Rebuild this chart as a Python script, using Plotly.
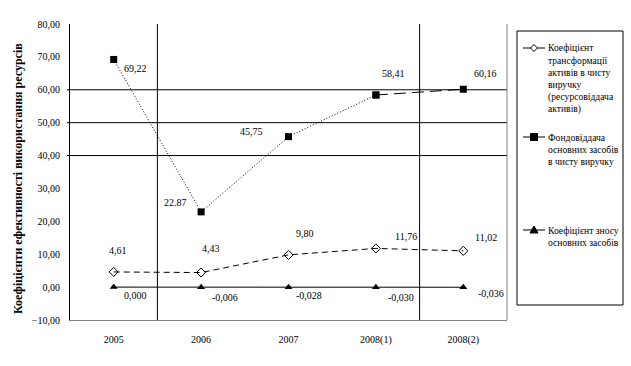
import plotly.graph_objects as go

categories = ["2005", "2006", "2007", "2008(1)", "2008(2)"]

asset_turnover = [4.61, 4.43, 9.80, 11.76, 11.02]
asset_labels = ["4,61", "4,43", "9,80", "11,76", "11,02"]

fixed_asset_return = [69.22, 22.87, 45.75, 58.41, 60.16]
fixed_asset_labels = ["69,22", "22.87", "45,75", "58,41", "60,16"]

wear_coef = [0.000, -0.006, -0.028, -0.030, -0.036]
wear_labels = ["0,000", "-0,006", "-0,028", "-0,030", "-0,036"]

name_turnover = ["Коефіцієнт", "трансформації", "активів в чисту", "виручку",
                 "(ресурсовіддача", "активів)"]
name_fixed = ["Фондовіддача", "основних засобів", "в чисту виручку"]
name_wear = ["Коефіцієнт зносу", "основних засобів"]

y_title = "Коефіцієнти ефективності використання ресурсів"

FONT = "Liberation Serif, Times New Roman, serif"

W, H = 631, 366
L, R, T, B = 70, 124, 24, 46
PW, PH = W - L - R, H - T - B


def px_x(px):
    return (px - L) / PW


def px_y(py):
    return (H - B - py) / PH


fig = go.Figure()

fig.add_trace(go.Scatter(
    x=categories, y=asset_turnover, name="<br>".join(name_turnover), mode="lines+markers",
    line=dict(color="black", width=1, dash="6px,4px"),
    marker=dict(symbol="diamond-open", size=7, color="black", line=dict(width=1, color="black")),
    showlegend=False,
))
fig.add_trace(go.Scatter(
    x=categories[:4], y=fixed_asset_return[:4], name="<br>".join(name_fixed), mode="lines+markers",
    line=dict(color="black", width=1, dash="1px,2px"),
    marker=dict(symbol="square", size=7, color="black"),
    showlegend=False,
))
fig.add_trace(go.Scatter(
    x=categories[3:], y=fixed_asset_return[3:], name="<br>".join(name_fixed), mode="lines+markers",
    line=dict(color="black", width=1, dash="12px,6px"),
    marker=dict(symbol="square", size=7, color="black"),
    showlegend=False,
))
fig.add_trace(go.Scatter(
    x=categories, y=wear_coef, name="<br>".join(name_wear), mode="lines+markers",
    line=dict(color="black", width=1),
    marker=dict(symbol="triangle-up", size=7, color="black"),
    showlegend=False,
))

# data labels (offsets in pixels)
turn_off = [(4, 21), (10, 24), (16, 21), (30, 12), (23, 13)]
fixed_off = [(22, -9), (-26, 9), (-37, 5), (18, 22), (22, 16)]
wear_off = [(22, -8), (24, -10), (20, -8), (25, -10), (28, -6)]

for vals, labs, offs in [(asset_turnover, asset_labels, turn_off),
                         (fixed_asset_return, fixed_asset_labels, fixed_off),
                         (wear_coef, wear_labels, wear_off)]:
    for i, (v, t, (dx, dy)) in enumerate(zip(vals, labs, offs)):
        fig.add_annotation(x=i, y=v, text=t, showarrow=False, xshift=dx, yshift=dy,
                           font=dict(family=FONT, size=10, color="black"))

# horizontal gridlines
for gy in [40, 50, 60]:
    fig.add_shape(type="line", xref="paper", yref="y", x0=px_x(67), x1=1, y0=gy, y1=gy,
                  line=dict(color="black", width=1))
# vertical lines between categories
for gx in [0.5, 3.5]:
    fig.add_shape(type="line", xref="x", yref="paper", x0=gx, x1=gx, y0=0, y1=1,
                  line=dict(color="black", width=1))
# right border
fig.add_shape(type="line", xref="paper", yref="paper", x0=1, x1=1, y0=0, y1=1,
              line=dict(color="#808080", width=1))

# y-axis title
fig.add_annotation(xref="paper", yref="paper", x=px_x(18), y=px_y(179), text="<b>" + y_title + "</b>",
                   textangle=-90, showarrow=False, xanchor="center", yanchor="middle",
                   font=dict(family=FONT, size=12, color="black"))

# ---- legend (drawn manually) ----
fig.add_shape(type="rect", xref="paper", yref="paper", x0=px_x(517), x1=px_x(623),
              y0=px_y(305), y1=px_y(31), line=dict(color="black", width=1),
              fillcolor="rgba(0,0,0,0)")
legend_items = [
    (name_turnover, 48, "M-3.5,0L0,-3.5L3.5,0L0,3.5Z", "white"),
    (name_fixed, 137, "M-3.5,-3.5L3.5,-3.5L3.5,3.5L-3.5,3.5Z", "black"),
    (name_wear, 230, "M-4,-3L4,-3L0,4Z", "black"),
]
LINE_STEP = 12.3
for lines, cy, path, fill in legend_items:
    fig.add_shape(type="line", xref="paper", yref="paper", x0=px_x(523), x1=px_x(545),
                  y0=px_y(cy), y1=px_y(cy), line=dict(color="black", width=1))
    fig.add_shape(type="path", xref="paper", yref="paper", xsizemode="pixel", ysizemode="pixel",
                  xanchor=px_x(534), yanchor=px_y(cy), path=path, fillcolor=fill,
                  line=dict(color="black", width=1))
    for k, line_text in enumerate(lines):
        fig.add_annotation(xref="paper", yref="paper", x=px_x(547), y=px_y(cy + k * LINE_STEP),
                           text=line_text, showarrow=False, xanchor="left", yanchor="middle",
                           align="left", borderpad=0,
                           font=dict(family=FONT, size=9.6, color="black"))

fig.update_layout(
    width=W, height=H,
    margin=dict(l=L, r=R, t=T, b=B, autoexpand=False),
    paper_bgcolor="white", plot_bgcolor="white",
    font=dict(family=FONT, size=10, color="black"),
    separators=", ",
    showlegend=False,
    xaxis=dict(type="category", range=[-0.5, 4.5], showgrid=False, showline=True,
               linecolor="#808080", linewidth=1,
               ticks="", ticklabelstandoff=10, zeroline=False,
               tickfont=dict(family=FONT, size=10)),
    yaxis=dict(range=[-10, 80], dtick=10, tickformat=".2f", showgrid=False,
               zeroline=False, showline=True, linecolor="black", linewidth=1,
               ticks="", ticklabelstandoff=7,
               tickfont=dict(family=FONT, size=10)),
)

fig.write_html("out.html", config={"displayModeBar": False},
               post_script="document.body.style.margin='0';")
